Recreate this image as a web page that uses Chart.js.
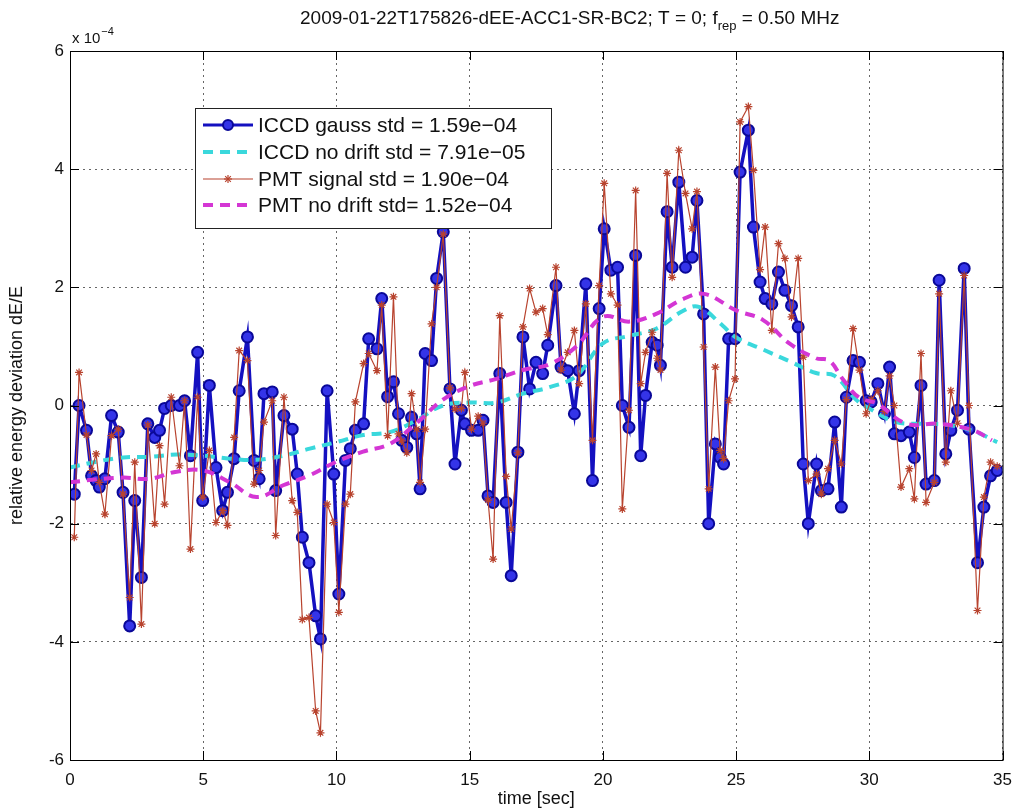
<!DOCTYPE html>
<html>
<head>
<meta charset="utf-8">
<script src="https://cdn.jsdelivr.net/npm/chart.js@4.4.1/dist/chart.umd.min.js"></script>
<style>
  html, body { margin: 0; padding: 0; background: #fff; }
  #wrap { width: 1022px; height: 811px; position: relative; }
</style>
</head>
<body>
<div id="wrap"><canvas id="chart"></canvas></div>
<script>
// values are in units of 1e-4 (axis shows "x 10^-4")
const times = [
  0.16, 0.34, 0.62, 0.81, 0.98, 1.10, 1.31, 1.56, 1.81, 1.99,
  2.24, 2.43, 2.68, 2.92, 3.18, 3.36, 3.55, 3.80, 4.11, 4.30,
  4.52, 4.79, 4.98, 5.23, 5.48, 5.73, 5.91, 6.16, 6.35, 6.66,
  6.91, 7.10, 7.28, 7.59, 7.72, 8.03, 8.34, 8.53, 8.72, 8.97,
  9.22, 9.40, 9.65, 9.90, 10.09, 10.34, 10.52, 10.71, 11.02, 11.21,
  11.52, 11.70, 11.92, 12.14, 12.33, 12.45, 12.64, 12.82, 13.01, 13.14,
  13.33, 13.57, 13.76, 14.01, 14.26, 14.45, 14.69, 14.82, 15.07, 15.32,
  15.50, 15.69, 15.88, 16.13, 16.37, 16.56, 16.81, 17.00, 17.25, 17.49,
  17.74, 17.93, 18.24, 18.43, 18.68, 18.93, 19.11, 19.36, 19.61, 19.86,
  20.05, 20.30, 20.55, 20.73, 20.98, 21.23, 21.42, 21.60, 21.85, 22.04,
  22.16, 22.41, 22.60, 22.85, 23.10, 23.35, 23.53, 23.78, 23.97, 24.22,
  24.40, 24.53, 24.72, 24.96, 25.15, 25.46, 25.65, 25.90, 26.09, 26.34,
  26.59, 26.83, 27.08, 27.33, 27.52, 27.71, 28.02, 28.20, 28.45, 28.70,
  28.95, 29.14, 29.39, 29.63, 29.88, 30.07, 30.32, 30.57, 30.76, 30.94,
  31.19, 31.50, 31.69, 31.94, 32.13, 32.44, 32.62, 32.87, 33.06, 33.31,
  33.56, 33.74, 34.06, 34.30, 34.55, 34.80
];

const iccdGauss = [
  -1.50, 0.00, -0.42, -1.19, -1.27, -1.38, -1.24, -0.17, -0.45, -1.47,
  -3.73, -1.61, -2.91, -0.31, -0.54, -0.42, -0.05, 0.00, 0.00, 0.08,
  -0.85, 0.90, -1.61, 0.34, -1.05, -1.78, -1.47, -0.90, 0.25, 1.16,
  -0.93, -1.24, 0.20, 0.23, -1.44, -0.17, -0.40, -1.16, -2.23, -2.66,
  -3.56, -3.95, 0.25, -1.16, -3.19, -0.93, -0.73, -0.42, -0.31, 1.13,
  0.96, 1.81, 0.15, 0.40, -0.14, -0.59, -0.71, -0.20, -0.48, -1.41,
  0.88, 0.76, 2.15, 2.94, 0.28, -0.99, -0.08, -0.31, -0.42, -0.42,
  -0.25, -1.53, -1.64, 0.54, -1.64, -2.88, -0.79, 1.16, 0.28, 0.73,
  0.54, 1.02, 2.03, 0.65, 0.59, -0.14, 0.59, 2.06, -1.27, 1.64,
  2.99, 2.29, 2.34, 0.00, -0.37, 2.54, -0.85, 0.17, 1.07, 1.02,
  0.68, 3.28, 2.34, 3.78, 2.34, 2.51, 3.47, 1.55, -2.00, -0.65,
  -0.88, -0.99, 1.13, 1.13, 3.95, 4.66, 3.02, 2.09, 1.81, 1.72,
  2.26, 1.95, 1.69, 1.33, -0.99, -2.00, -0.99, -1.44, -1.41, -0.28,
  -1.72, 0.14, 0.76, 0.73, 0.08, 0.06, 0.37, -0.14, 0.65, -0.48,
  -0.51, -0.45, -0.88, 0.34, -1.33, -1.27, 2.12, -0.82, -0.42, -0.08,
  2.32, -0.40, -2.66, -1.72, -1.19, -1.10
];

const pmtSignal = [
  -2.23, 0.56, -0.50, -1.10, -0.82, -1.30, -1.84, -0.51, -0.40, -1.50,
  -3.25, -0.96, -3.70, -0.33, -2.00, -0.68, -1.67, 0.14, -1.02, 0.08,
  -2.43, 0.14, -1.55, -0.76, -1.98, -1.78, -2.03, -0.54, 0.93, 0.76,
  -1.33, -1.10, -0.28, 0.08, -2.20, 0.14, -1.61, -1.81, -3.62, -3.59,
  -5.17, -5.54, -1.67, -1.98, -3.50, -1.67, -1.50, 0.06, 0.71, 0.88,
  0.59, 1.70, -0.51, 1.84, -0.48, -0.60, -0.80, 0.20, -0.40, -1.30,
  -0.40, 1.38, 2.00, 2.90, 0.30, -0.06, -0.05, 0.56, -0.40, -0.18,
  -0.30, -1.60, -2.60, 1.52, -1.20, -2.09, -0.80, 1.33, 1.98, 1.58,
  1.64, 1.20, 2.34, 0.60, 0.90, 1.27, 0.37, 1.72, -0.59, 2.03,
  3.76, 1.89, 1.70, -1.75, -0.08, 3.64, 0.37, 0.90, 1.24, 0.80,
  0.60, 3.93, 2.17, 4.32, 3.59, 2.99, 3.62, 0.99, -1.41, 0.65,
  -0.76, -0.90, 0.08, 0.45, 4.80, 5.06, 3.98, 2.30, 3.02, 1.27,
  2.74, 2.49, 1.50, 2.49, 0.82, -1.27, -1.16, -1.50, -1.07, -0.59,
  -0.99, 0.10, 1.30, 0.60, -0.14, 0.10, 0.25, -0.10, 0.50, 0.00,
  -1.38, -1.07, -1.58, 0.88, -1.64, -1.30, 1.89, -0.96, 0.25, -0.30,
  2.20, 0.00, -3.47, -1.55, -0.96, -1.03
];

const iccdDriftTimes = [0, 1, 2, 3, 4, 5, 6, 7, 8, 9, 10, 11, 12, 13, 14, 15, 16, 17, 18, 19, 20, 21, 22, 23, 23.6, 24.5, 25, 26, 27, 28, 28.7, 29.5, 30, 31, 32, 33, 34, 34.8];
const iccdNoDrift = [-1.05, -0.95, -0.88, -0.87, -0.83, -0.85, -0.90, -0.92, -0.85, -0.73, -0.62, -0.50, -0.45, -0.25, 0.00, 0.05, 0.05, 0.20, 0.31, 0.50, 1.05, 1.18, 1.30, 1.60, 1.67, 1.35, 1.15, 0.95, 0.75, 0.55, 0.50, 0.10, -0.05, -0.28, -0.31, -0.33, -0.45, -0.62];

const pmtDriftTimes = [0, 1, 2, 3, 4, 5, 6, 7, 8, 9, 10, 11, 12, 13, 14, 15, 16, 17, 18, 19, 20, 21, 22, 23, 23.8, 25, 26, 27, 28, 28.5, 29, 29.6, 30.3, 31.4, 32.6, 33.9, 34.6];
const pmtNoDrift = [-1.30, -1.25, -1.22, -1.24, -1.12, -1.10, -1.30, -1.55, -1.35, -1.18, -0.95, -0.78, -0.65, -0.30, 0.10, 0.33, 0.45, 0.60, 0.70, 1.00, 1.50, 1.42, 1.55, 1.80, 1.89, 1.61, 1.45, 1.05, 0.80, 0.76, 0.45, 0.14, 0.03, -0.31, -0.31, -0.42, -0.59];

const xTicks = [0, 5, 10, 15, 20, 25, 30, 35];
const yTicks = [-6, -4, -2, 0, 2, 4, 6];

const legendLabels = [
  "ICCD gauss std = 1.59e\u221204",
  "ICCD no drift std = 7.91e\u221205",
  "PMT signal std = 1.90e\u221204",
  "PMT no drift std= 1.52e\u221204"
];

const FONT = '"Liberation Sans", Arial, sans-serif';
const BLUE = "#1410c0";
const CYAN = "#3ad8dc";
const RED = "#b8432e";
const MAGENTA = "#d436d4";

function toPoints(xs, ys) {
  return xs.map((x, i) => ({ x, y: ys[i] }));
}

function drawLine(ctx, x1, y1, x2, y2) {
  ctx.beginPath();
  ctx.moveTo(x1, y1);
  ctx.lineTo(x2, y2);
  ctx.stroke();
}

function drawStar(ctx, cx, cy, r) {
  for (let k = 0; k < 4; k += 1) {
    const ang = (k * Math.PI) / 4;
    drawLine(ctx, cx - r * Math.cos(ang), cy - r * Math.sin(ang), cx + r * Math.cos(ang), cy + r * Math.sin(ang));
  }
}

const decorPlugin = {
  id: "decor",
  afterDraw(chart) {
    const { ctx, chartArea: a, scales } = chart;
    const xs = scales.x;
    const ys = scales.y;
    ctx.save();

    // box + inward ticks like matlab
    ctx.strokeStyle = "#000";
    ctx.lineWidth = 1;
    ctx.setLineDash([]);
    ctx.strokeRect(a.left + 0.5, a.top + 0.5, a.right - a.left, a.bottom - a.top);
    xTicks.forEach((v) => {
      const px = Math.round(xs.getPixelForValue(v)) + 0.5;
      drawLine(ctx, px, a.bottom, px, a.bottom - 9);
      drawLine(ctx, px, a.top, px, a.top + 9);
    });
    yTicks.forEach((v) => {
      const py = Math.round(ys.getPixelForValue(v)) + 0.5;
      drawLine(ctx, a.left, py, a.left + 9, py);
      drawLine(ctx, a.right, py, a.right - 9, py);
    });

    // exponent label
    ctx.fillStyle = "#111";
    ctx.textBaseline = "alphabetic";
    ctx.textAlign = "left";
    ctx.font = `15px ${FONT}`;
    ctx.fillText("x 10", a.left + 2, a.top - 8);
    const w10 = ctx.measureText("x 10").width;
    ctx.font = `11px ${FONT}`;
    ctx.fillText("\u22124", a.left + 3 + w10, a.top - 16);

    // title with subscript, starts where the reference puts it
    const part1 = "2009-01-22T175826-dEE-ACC1-SR-BC2; T = 0; f";
    const sub = "rep";
    const part2 = " = 0.50 MHz";
    let tx = 300;
    const ty = 24;
    ctx.font = `19px ${FONT}`;
    ctx.fillText(part1, tx, ty);
    tx += ctx.measureText(part1).width;
    ctx.font = `13px ${FONT}`;
    ctx.fillText(sub, tx, ty + 6);
    tx += ctx.measureText(sub).width;
    ctx.font = `19px ${FONT}`;
    ctx.fillText(part2, tx, ty);

    // legend box
    const lx = 195.5, ly = 108.5, lw = 356, lh = 120;
    ctx.fillStyle = "#fff";
    ctx.fillRect(lx, ly, lw, lh);
    ctx.strokeStyle = "#222";
    ctx.strokeRect(lx, ly, lw, lh);
    const rows = [125, 152, 179, 205];
    const styles = [
      { color: BLUE, width: 3, dash: [], marker: "circle" },
      { color: CYAN, width: 4, dash: [10, 7], marker: null },
      { color: RED, width: 1.2, dash: [], marker: "star" },
      { color: MAGENTA, width: 4, dash: [10, 7], marker: null }
    ];
    rows.forEach((ry, i) => {
      const s = styles[i];
      ctx.strokeStyle = s.color;
      ctx.lineWidth = s.width;
      ctx.setLineDash(s.dash);
      drawLine(ctx, 203, ry, 253, ry);
      ctx.setLineDash([]);
      if (s.marker === "circle") {
        ctx.beginPath();
        ctx.arc(228, ry, 5, 0, Math.PI * 2);
        ctx.fillStyle = "#3434e8";
        ctx.fill();
        ctx.lineWidth = 2;
        ctx.strokeStyle = "#0a0898";
        ctx.stroke();
      } else if (s.marker === "star") {
        ctx.lineWidth = 1.2;
        drawStar(ctx, 228, ry, 4);
      }
      ctx.fillStyle = "#111";
      ctx.font = `21px ${FONT}`;
      ctx.textBaseline = "middle";
      ctx.fillText(legendLabels[i], 258, ry + 1);
    });

    ctx.restore();
  }
};

new Chart(document.querySelector("#chart"), {
  type: "scatter",
  plugins: [decorPlugin],
  data: {
    datasets: [
      {
        label: legendLabels[0],
        data: toPoints(times, iccdGauss),
        showLine: true,
        borderColor: BLUE,
        borderWidth: 3.5,
        pointStyle: "circle",
        pointRadius: 5.5,
        pointBackgroundColor: "#3434e8",
        pointBorderColor: "#0a0898",
        pointBorderWidth: 2,
        tension: 0,
        order: 4
      },
      {
        label: legendLabels[1],
        data: toPoints(iccdDriftTimes, iccdNoDrift),
        showLine: true,
        borderColor: CYAN,
        borderWidth: 4,
        borderDash: [10, 7],
        pointRadius: 0,
        tension: 0.4,
        order: 3
      },
      {
        label: legendLabels[2],
        data: toPoints(times, pmtSignal),
        showLine: true,
        borderColor: RED,
        borderWidth: 1.2,
        pointStyle: "star",
        pointRadius: 4,
        pointBorderColor: RED,
        pointBackgroundColor: RED,
        pointBorderWidth: 1.2,
        tension: 0,
        order: 2
      },
      {
        label: legendLabels[3],
        data: toPoints(pmtDriftTimes, pmtNoDrift),
        showLine: true,
        borderColor: MAGENTA,
        borderWidth: 4,
        borderDash: [10, 7],
        pointRadius: 0,
        tension: 0.4,
        order: 1
      }
    ]
  },
  options: {
    responsive: true,
    maintainAspectRatio: false,
    animation: false,
    devicePixelRatio: 1,
    layout: {
      padding: { top: 51, right: 15, bottom: 0, left: 0 }
    },
    plugins: {
      legend: { display: false },
      tooltip: { enabled: false },
      title: { display: false }
    },
    scales: {
      x: {
        type: "linear",
        min: 0,
        max: 35,
        afterFit(scale) {
          scale.height = 51;
        },
        afterBuildTicks(scale) {
          scale.ticks = xTicks.map((v) => ({ value: v }));
        },
        ticks: {
          color: "#111",
          padding: 10,
          maxRotation: 0,
          font: { family: FONT, size: 17 }
        },
        grid: {
          color: "rgba(0, 0, 0, 0.6)",
          lineWidth: 1,
          drawTicks: false
        },
        border: {
          display: true,
          color: "#000",
          dash: [2, 4]
        },
        title: {
          display: true,
          text: "time [sec]",
          color: "#111",
          font: { family: FONT, size: 18 },
          padding: { top: 0, bottom: 1 }
        }
      },
      y: {
        type: "linear",
        min: -6,
        max: 6,
        afterFit(scale) {
          scale.width = 70;
        },
        afterBuildTicks(scale) {
          scale.ticks = yTicks.map((v) => ({ value: v }));
        },
        ticks: {
          color: "#111",
          padding: 6,
          font: { family: FONT, size: 17 }
        },
        grid: {
          color: "rgba(0, 0, 0, 0.6)",
          lineWidth: 1,
          drawTicks: false
        },
        border: {
          display: true,
          color: "#000",
          dash: [2, 4]
        },
        title: {
          display: true,
          text: "relative energy deviation dE/E",
          color: "#111",
          font: { family: FONT, size: 18 },
          padding: { top: 6, bottom: 0 }
        }
      }
    }
  }
});
</script>
</body>
</html>
